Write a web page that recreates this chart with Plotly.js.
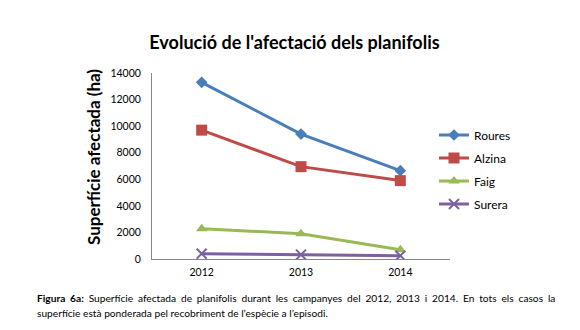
<!DOCTYPE html>
<html><head><meta charset="utf-8">
<script src="https://cdn.plot.ly/plotly-3.0.1.min.js"></script>
<style>html,body{margin:0;padding:0;background:#fff;}#chart{width:580px;height:330px;}
.annotation[data-index="1"] text{word-spacing:2.25px;}</style>
</head><body><div id="chart"></div>
<script>
const years = ['2012', '2013', '2014'];
const roures = [13300, 9400, 6650];
const alzina = [9700, 6950, 5900];
const faig = [2280, 1900, 700];
const surera = [400, 330, 250];
const seriesNames = ['Roures', 'Alzina', 'Faig', 'Surera'];
const yTicks = [0, 2000, 4000, 6000, 8000, 10000, 12000, 14000];

const colors = ['#4a7ebb', '#be4b48', '#98b954', '#7d60a0'];
const symbols = ['diamond', 'square', 'triangle-up', 'x-thin-open'];
const sizes = [9, 11, 10, 10];
const legendIds = ['legend', 'legend2', 'legend3', 'legend4'];
const data = [roures, alzina, faig, surera].map((v, i) => ({
  x: years, y: v, type: 'scatter', mode: 'lines+markers', name: seriesNames[i],
  legend: legendIds[i], showlegend: true,
  line: {color: colors[i], width: 3},
  marker: {symbol: symbols[i], size: sizes[i], color: colors[i], line: {color: colors[i], width: i === 3 ? 2 : 0}}
}));

const fam = 'Lato, Open Sans, sans-serif';
const legendYpx = [135, 158, 181, 204];
const legBase = {x: (434 - 152) / 298, xanchor: 'left', yanchor: 'middle', font: {size: 12, family: fam}, itemwidth: 30, bgcolor: 'rgba(0,0,0,0)'};
const layout = {
  width: 580, height: 330,
  showlegend: true,
  margin: {l: 152, r: 130, t: 73, b: 71},
  paper_bgcolor: '#fff', plot_bgcolor: '#fff',
  font: {family: fam, color: '#000'},
  title: {text: "<b>Evolució de l'afectació dels planifolis</b>", x: (294.5 - 152) / 298, xref: 'paper', xanchor: 'center', y: 0.87, yref: 'container', yanchor: 'middle', font: {size: 18, family: fam, color: '#000'}},
  xaxis: {type: 'category', range: [-0.5, 2.5], showline: true, linecolor: '#868686', linewidth: 1, ticks: '', showgrid: false, zeroline: false, tickfont: {size: 10.5}, ticklabelstandoff: 3},
  yaxis: {range: [0, 14000], tickvals: yTicks, ticktext: yTicks.map(String), showline: true, linecolor: '#868686', linewidth: 1, ticks: '', ticklen: 0, showgrid: false, zeroline: false, tickfont: {size: 10.5}, ticklabelstandoff: 8},
  annotations: [
    {xref: 'paper', yref: 'paper', x: (93 - 152) / 298, y: (259 - 157) / 186, xanchor: 'center', yanchor: 'middle', showarrow: false, textangle: -90,
      text: '<b>Superfície afectada (ha)</b>', font: {size: 17, family: fam}},
    {xref: 'paper', yref: 'paper', x: (35 - 152) / 298, y: (259 - 298) / 186, xanchor: 'left', yanchor: 'middle', showarrow: false, align: 'left',
      text: '<b>Figura 6a:</b> Superfície afectada de planifolis durant les campanyes del 2012, 2013 i 2014. En tots els casos la', font: {size: 10.2, family: fam}},
    {xref: 'paper', yref: 'paper', x: (35 - 152) / 298, y: (259 - 313) / 186, xanchor: 'left', yanchor: 'middle', showarrow: false, align: 'left',
      text: 'superfície està ponderada pel recobriment de l’espècie a l’episodi.', font: {size: 10.2, family: fam}}
  ]
};
legendIds.forEach((id, i) => {
  layout[id] = Object.assign({}, legBase, {y: (259 - legendYpx[i]) / 186});
});
Plotly.newPlot('chart', data, layout, {displayModeBar: false, staticPlot: true});
</script></body></html>
